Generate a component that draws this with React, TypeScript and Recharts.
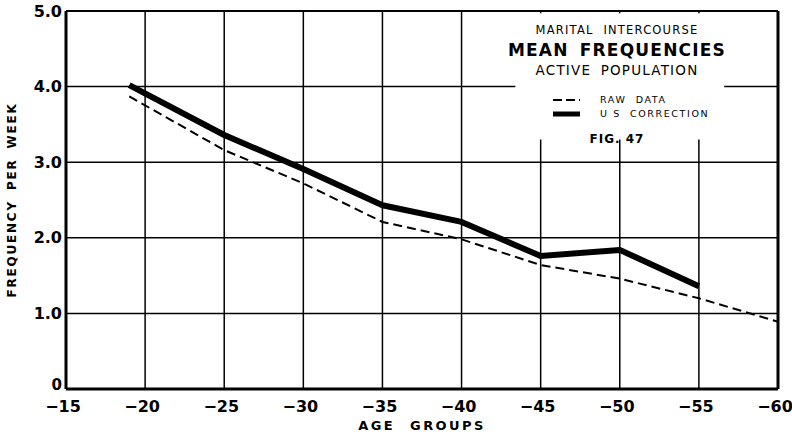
import React from 'react';
import {
  LineChart,
  Line,
  XAxis,
  YAxis,
  CartesianGrid,
  ReferenceArea,
  ReferenceLine,
} from 'recharts';

// age groups (upper bound of each group)
const ageGroups = [-19, -25, -30, -35, -40, -45, -50, -55, -60];
const rawData = [3.87, 3.16, 2.72, 2.21, 1.98, 1.64, 1.46, 1.2, 0.89];
const usCorrection = [4.02, 3.36, 2.91, 2.43, 2.21, 1.76, 1.84, 1.36, null];

const xTicks = [-15, -20, -25, -30, -35, -40, -45, -50, -55, -60];
const yTicks = [0, 1, 2, 3, 4, 5];

const data = ageGroups.map((age, i) => ({
  age,
  raw: rawData[i],
  corrected: usCorrection[i],
}));

const FONT = '"DejaVu Sans", Verdana, sans-serif';

const legendText: React.CSSProperties = {
  position: 'absolute',
  left: 103,
  fontSize: 9.5,
  letterSpacing: 1.6,
  lineHeight: '12px',
  textAlign: 'left',
  whiteSpace: 'nowrap',
};

const TitleBlock = () => (
  <div style={{ position: 'absolute', left: 497, top: 21, width: 240, fontFamily: FONT, color: '#000', textAlign: 'center' }}>
    <div style={{ fontSize: 11.5, letterSpacing: 1.2, wordSpacing: 5, lineHeight: '18px' }}>
      MARITAL INTERCOURSE
    </div>
    <div style={{ fontSize: 17, fontWeight: 'bold', letterSpacing: 1.2, wordSpacing: 4, lineHeight: '22px' }}>
      MEAN FREQUENCIES
    </div>
    <div style={{ fontSize: 13.5, letterSpacing: 1.2, wordSpacing: 4, lineHeight: '18px' }}>
      ACTIVE POPULATION
    </div>
    <div style={{ position: 'relative', height: 32, marginTop: 15 }}>
      <svg width={32} height={32} style={{ position: 'absolute', left: 54, top: 0 }}>
        <line x1={2} y1={6} x2={29} y2={6} stroke="#000" strokeWidth={2} strokeDasharray="9 4" />
        <line x1={2} y1={20} x2={29} y2={20} stroke="#000" strokeWidth={5} />
      </svg>
      <div style={{ ...legendText, top: 0 }}>RAW&nbsp; DATA</div>
      <div style={{ ...legendText, top: 14 }}>U S&nbsp; CORRECTION</div>
    </div>
    <div style={{ fontSize: 12, fontWeight: 'bold', letterSpacing: 1, marginTop: 6 }}>FIG. 47</div>
  </div>
);

// y tick: the "0" sits a little higher so it clears the "-15" below it
const YTick = (props: any) => {
  const { x, y, payload } = props;
  const v = payload.value as number;
  return (
    <text
      x={x}
      y={v === 0 ? y - 4 : y}
      dy="0.355em"
      textAnchor="end"
      fill="#000"
      fontSize={v === 0 ? 15 : 16}
      fontWeight="bold"
      fontFamily={FONT}
    >
      {v === 0 ? '0' : v.toFixed(1)}
    </text>
  );
};

const App = () => {
  return (
    <div style={{ position: 'absolute', left: 0, top: 0, width: 792, height: 439, background: '#fff' }}>
      <LineChart
        width={792}
        height={439}
        data={data}
        margin={{ top: 11, right: 14, left: 0, bottom: 0 }}
      >
        <CartesianGrid stroke="#000" strokeWidth={1.5} />
        <ReferenceArea x1={-43.4} x2={-56.6} y1={3.3} y2={4.97} fill="#fff" fillOpacity={1} stroke="none" ifOverflow="visible" />
        <ReferenceLine x={-60} stroke="#000" strokeWidth={3} />
        <ReferenceLine y={5} stroke="#000" strokeWidth={2} />
        <XAxis
          type="number"
          dataKey="age"
          domain={[-60, -15]}
          reversed
          ticks={xTicks}
          height={50}
          tickSize={0}
          tickMargin={12}
          axisLine={{ stroke: '#000', strokeWidth: 3 }}
          tickFormatter={(v: number) => `\u2212${Math.abs(v)}`}
          tick={{ fill: '#000', fontSize: 16, fontWeight: 'bold', fontFamily: FONT, dx: -3 }}
          label={{
            value: 'AGE GROUPS',
            position: 'insideBottom',
            offset: 9,
            style: { fill: '#000', fontSize: 13, fontWeight: 'bold', letterSpacing: 2.4, wordSpacing: 8, fontFamily: FONT },
          }}
        />
        <YAxis
          type="number"
          domain={[0, 5]}
          ticks={yTicks}
          width={66}
          tickSize={0}
          tickMargin={4}
          axisLine={{ stroke: '#000', strokeWidth: 3 }}
          tick={<YTick />}
          label={{
            value: 'FREQUENCY PER WEEK',
            angle: -90,
            position: 'insideLeft',
            offset: 12,
            style: { fill: '#000', fontSize: 12, fontWeight: 'bold', letterSpacing: 1.8, wordSpacing: 4, fontFamily: FONT, textAnchor: 'middle' },
          }}
        />
        <Line
          type="linear"
          dataKey="raw"
          stroke="#000"
          strokeWidth={2}
          strokeDasharray="9 5"
          dot={false}
          activeDot={false}
          isAnimationActive={false}
        />
        <Line
          type="linear"
          dataKey="corrected"
          stroke="#000"
          strokeWidth={6}
          strokeLinejoin="round"
          dot={false}
          activeDot={false}
          connectNulls={false}
          isAnimationActive={false}
        />
      </LineChart>
      <TitleBlock />
    </div>
  );
};

export default App;
